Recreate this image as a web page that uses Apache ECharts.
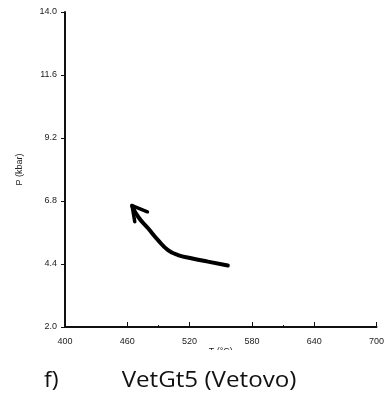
<!DOCTYPE html>
<html><head><meta charset="utf-8">
<script src="https://cdn.jsdelivr.net/npm/echarts@6/dist/echarts.min.js"></script>
<style>html,body{margin:0;padding:0;background:#fff}#c{width:387px;height:401px}</style>
</head><body><div id="c"></div>
<script>
const xTicks = [400, 460, 520, 580, 640, 700];
const xMinorTicks = [490, 610];
const yTicks = [2.0, 4.4, 6.8, 9.2, 11.6, 14.0];
const pathT = [556.8, 537.6, 521.6, 508.8, 499.2, 489.6, 480.0, 470.4, 464.6];
const pathP = [4.34, 4.49, 4.62, 4.74, 4.93, 5.31, 5.76, 6.20, 6.62];
const headT = [479.4, 464.6, 467.2];
const headP = [6.39, 6.62, 6.01];
const xName = 'T (°C)';
const yName = 'P (kbar)';
const caption = 'VetGt5 (Vetovo)';
const captionLabel = 'f)';

const chart = echarts.init(document.getElementById('c'), null, {renderer: 'canvas'});
const lab = {color: '#222', fontFamily: 'Liberation Sans', fontSize: 9};
chart.setOption({
  animation: false,
  grid: {left: 65, right: 10, top: 12, bottom: 74},
  xAxis: [{
    type: 'value', min: 400, max: 700,
    name: xName, nameLocation: 'middle', nameGap: 20, nameMoveOverlap: false,
    nameTextStyle: {color: '#222', fontFamily: 'Liberation Sans', fontSize: 9},
    axisLine: {lineStyle: {color: '#111', width: 2}},
    axisTick: {show: true, inside: true, length: 5, customValues: xTicks, lineStyle: {color: '#111', width: 1}},
    axisLabel: Object.assign({customValues: xTicks, margin: 10, formatter: v => String(v)}, lab),
    splitLine: {show: false}
  }, {
    type: 'value', min: 400, max: 700, position: 'bottom',
    axisLine: {show: false},
    axisTick: {show: true, inside: true, length: 2, customValues: xMinorTicks, lineStyle: {color: '#111', width: 1}},
    axisLabel: {show: false},
    splitLine: {show: false}
  }],
  yAxis: {
    type: 'value', min: 2, max: 14,
    name: yName, nameLocation: 'middle', nameGap: 41, nameRotate: 90,
    nameTextStyle: {color: '#222', fontFamily: 'Liberation Sans', fontSize: 9},
    axisLine: {show: true, lineStyle: {color: '#111', width: 2}},
    axisTick: {show: true, length: 4, customValues: yTicks, lineStyle: {color: '#111', width: 1}},
    axisLabel: Object.assign({customValues: yTicks, margin: 8, formatter: v => v.toFixed(1)}, lab),
    splitLine: {show: false}
  },
  series: [{
    type: 'line', smooth: 0.5, symbol: 'none',
    data: pathT.map((t, i) => [t, pathP[i]]),
    lineStyle: {color: '#000', width: 4, cap: 'round', join: 'round'}
  }, {
    type: 'line', symbol: 'none',
    data: headT.map((t, i) => [t, headP[i]]),
    lineStyle: {color: '#000', width: 3.5, cap: 'round', join: 'round'}
  }],
  graphic: [
    {type: 'rect', shape: {x: 0, y: 350, width: 387, height: 51}, style: {fill: '#fff'}, z: 100},
    {type: 'text', x: 44, y: 381, scaleX: 1.1, style: {text: captionLabel, fontFamily: 'Open Sans', fontSize: 21, fill: '#111', textVerticalAlign: 'middle'}, z: 101},
    {type: 'text', x: 209, y: 381, scaleX: 1.15, style: {text: caption, fontFamily: 'Open Sans', fontSize: 21, fill: '#111', textAlign: 'center', textVerticalAlign: 'middle'}, z: 101}
  ]
});
</script></body></html>
